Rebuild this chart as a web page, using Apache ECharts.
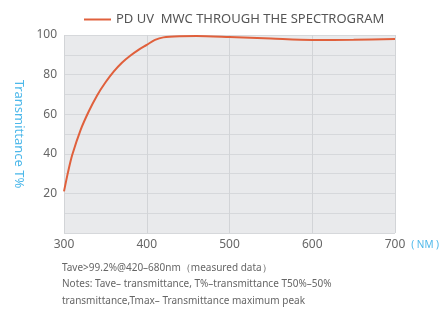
<!DOCTYPE html>
<html>
<head>
<meta charset="utf-8">
<script src="https://cdn.jsdelivr.net/npm/echarts@6/dist/echarts.min.js"></script>
<style>
  html, body { margin: 0; padding: 0; background: #fff; }
  #main { width: 446px; height: 310px; }
</style>
</head>
<body>
<div id="main"></div>
<script>
// wavelength (nm) and transmittance (%)
const wavelengths = [300, 305, 310, 320, 330, 340, 350, 360, 370, 380, 390, 400, 410, 420, 440, 460, 500, 550, 600, 650, 700]
const transmittance = [21, 31, 39.5, 52, 61.5, 69.5, 76, 81.5, 86, 89.5, 92.5, 95, 97.5, 98.8, 99.4, 99.5, 99, 98.2, 97.5, 97.6, 98]
const xTicks = [300, 400, 500, 600, 700]
const yLabels = [20, 40, 60, 80, 100]
const seriesName = 'PD UV  MWC THROUGH THE SPECTROGRAM'
const notes = [
  'Tave>99.2%@420–680nm（measured data）',
  'Notes: Tave– transmittance, T%–transmittance T50%–50%',
  'transmittance,Tmax– Transmittance maximum peak'
]

const chart = echarts.init(document.getElementById('main'))
const font = 'Noto Sans'

const option = {
  animation: false,
  textStyle: { fontFamily: font },
  legend: {
    data: [seriesName],
    top: 8,
    left: 79,
    icon: 'rect',
    itemWidth: 27,
    itemHeight: 2,
    itemGap: 5,
    textStyle: { color: '#555', fontSize: 13, fontFamily: font }
  },
  grid: {
    left: 64, right: 51, top: 35, bottom: 77,
    show: true,
    backgroundColor: '#e9eaec',
    borderWidth: 0
  },
  xAxis: {
    type: 'value',
    min: 300, max: 700, interval: 100,
    name: '( NM )',
    nameLocation: 'end',
    nameGap: 6,
    nameTextStyle: { color: '#4db8ea', fontSize: 10, verticalAlign: 'top', padding: [7, 0, 0, 0] },
    axisLine: { show: false },
    axisTick: { show: false },
    axisLabel: {
      color: '#666', fontSize: 12, margin: 6,
      formatter: v => xTicks.includes(v) ? String(v) : ''
    },
    splitLine: { show: true, lineStyle: { color: '#d2d4d7', width: 1 } }
  },
  yAxis: {
    type: 'value',
    min: 0, max: 100, interval: 10,
    name: 'Transmittance T%',
    nameLocation: 'middle',
    nameRotate: -90,
    nameGap: 33,
    nameTextStyle: { color: '#4db8ea', fontSize: 13 },
    axisLine: { show: false },
    axisTick: { show: false },
    axisLabel: {
      color: '#666', fontSize: 12, margin: 7,
      formatter: v => yLabels.includes(v) ? String(v) : ''
    },
    splitLine: { show: true, lineStyle: { color: '#d6d8db', width: 1 } }
  },
  series: [{
    name: seriesName,
    type: 'line',
    smooth: 0.3,
    showSymbol: false,
    color: '#e0603c',
    lineStyle: { width: 2 },
    data: wavelengths.map((w, i) => [w, transmittance[i]])
  }],
  graphic: notes.map((t, i) => ({
    type: 'text',
    left: 62,
    top: 263 + i * 16.5,
    style: { text: t, fill: '#666', fontSize: 10, fontFamily: font }
  }))
}

chart.setOption(option)
</script>
</body>
</html>
